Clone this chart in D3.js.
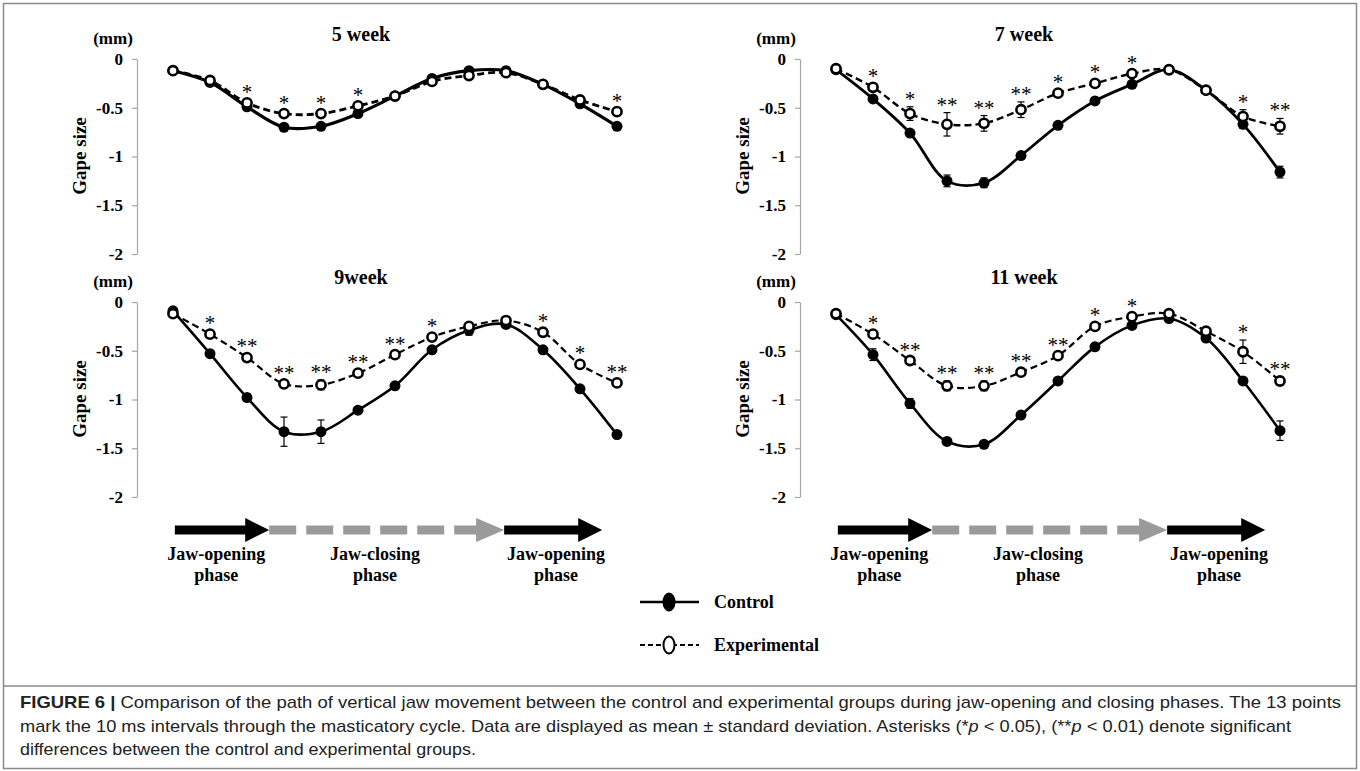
<!DOCTYPE html>
<html>
<head>
<meta charset="utf-8">
<script src="https://cdn.jsdelivr.net/npm/d3@7"></script>
<style>
  body { margin: 0; background: #fff; }
  svg { display: block; }
</style>
</head>
<body>
<div id="chart"></div>
<script>
// Set up dimensions
const width = 1360, height = 771;

// 13 sample points (10 ms steps through the cycle)
const points = d3.range(1, 14);
const yTicks = [0, -0.5, -1, -1.5, -2];
const yTickLabels = ["0", "-0.5", "-1", "-1.5", "-2"];

// 5 week
const ctrl5 = [-0.12, -0.24, -0.49, -0.70, -0.69, -0.56, -0.38, -0.20, -0.12, -0.12, -0.26, -0.46, -0.69];
const exp5 = [-0.12, -0.22, -0.45, -0.56, -0.56, -0.48, -0.38, -0.23, -0.17, -0.14, -0.26, -0.42, -0.54];
const ctrlErr5 = [0.01, 0.01, 0.01, 0.01, 0.01, 0.01, 0.01, 0.01, 0.01, 0.01, 0.01, 0.01, 0.01];
const expErr5 = [0.01, 0.01, 0.01, 0.01, 0.01, 0.01, 0.01, 0.01, 0.01, 0.01, 0.01, 0.01, 0.01];
const sig5 = ["", "", "*", "*", "*", "*", "", "", "", "", "", "", "*"];

// 7 week
const ctrl7 = [-0.11, -0.41, -0.76, -1.25, -1.27, -0.99, -0.68, -0.43, -0.26, -0.11, -0.32, -0.67, -1.16];
const exp7 = [-0.10, -0.29, -0.56, -0.67, -0.66, -0.52, -0.35, -0.25, -0.15, -0.11, -0.32, -0.59, -0.69];
const ctrlErr7 = [0.01, 0.02, 0.02, 0.06, 0.05, 0.03, 0.02, 0.02, 0.02, 0.01, 0.02, 0.03, 0.06];
const expErr7 = [0.01, 0.02, 0.07, 0.12, 0.08, 0.08, 0.02, 0.02, 0.02, 0.01, 0.02, 0.07, 0.08];
const sig7 = ["", "*", "*", "**", "**", "**", "*", "*", "*", "", "", "*", "**"];

// 9 week
const ctrl9 = [-0.09, -0.53, -0.98, -1.33, -1.33, -1.11, -0.86, -0.49, -0.29, -0.23, -0.49, -0.89, -1.36];
const exp9 = [-0.12, -0.33, -0.57, -0.84, -0.85, -0.73, -0.54, -0.36, -0.25, -0.19, -0.31, -0.64, -0.83];
const ctrlErr9 = [0.01, 0.02, 0.04, 0.15, 0.12, 0.02, 0.02, 0.02, 0.05, 0.04, 0.03, 0.02, 0.04];
const expErr9 = [0.01, 0.02, 0.04, 0.03, 0.05, 0.02, 0.02, 0.02, 0.02, 0.01, 0.02, 0.02, 0.02];
const sig9 = ["", "*", "**", "**", "**", "**", "**", "*", "", "", "*", "*", "**"];

// 11 week
const ctrl11 = [-0.13, -0.54, -1.04, -1.43, -1.46, -1.16, -0.81, -0.46, -0.24, -0.17, -0.37, -0.81, -1.32];
const exp11 = [-0.12, -0.33, -0.60, -0.86, -0.86, -0.72, -0.55, -0.25, -0.15, -0.12, -0.30, -0.51, -0.81];
const ctrlErr11 = [0.01, 0.06, 0.05, 0.03, 0.03, 0.03, 0.02, 0.02, 0.02, 0.02, 0.02, 0.02, 0.10];
const expErr11 = [0.01, 0.02, 0.02, 0.05, 0.05, 0.02, 0.02, 0.02, 0.02, 0.01, 0.02, 0.12, 0.04];
const sig11 = ["", "*", "**", "**", "**", "**", "**", "*", "*", "", "", "*", "**"];

// Phase arrows under the bottom row (positions in sample-point units)
const phaseLabels = ["Jaw-opening", "Jaw-closing", "Jaw-opening"];
const phaseStart = [1.05, 3.6, 9.95];
const phaseEnd = [3.6, 9.95, 12.6];
const phaseLabelAt = [2.17, 6.46, 11.35];

const legendLabels = ["Control", "Experimental"];

const captionLines = [
  [["FIGURE 6 | ", "bold"], ["Comparison of the path of vertical jaw movement between the control and experimental groups during jaw-opening and closing phases. The 13 points", ""]],
  [["mark the 10 ms intervals through the masticatory cycle. Data are displayed as mean \u00b1 standard deviation. Asterisks (*", ""], ["p", "italic"], [" < 0.05), (**", ""], ["p", "italic"], [" < 0.01) denote significant", ""]],
  [["differences between the control and experimental groups.", ""]]
];

const serif = "'Liberation Serif', 'Times New Roman', serif";

// Create an SVG container
const svg = d3.select("#chart")
  .append("svg")
  .attr("width", width)
  .attr("height", height);

// Frame
svg.append("rect")
  .attr("x", 3.5).attr("y", 3.5)
  .attr("width", width - 7).attr("height", height - 6)
  .attr("fill", "none")
  .attr("stroke", "#8a8a8a")
  .attr("stroke-width", 1.5);
svg.append("line")
  .attr("x1", 3.5).attr("x2", width - 3.5)
  .attr("y1", 686).attr("y2", 686)
  .attr("stroke", "#8a8a8a")
  .attr("stroke-width", 1.5);

const panels = [
  { title: "5 week", ctrl: ctrl5, exp: exp5, ctrlErr: ctrlErr5, expErr: expErr5, sig: sig5, ax: 137, y0: 59, lw: 3.2, arrows: false },
  { title: "7 week", ctrl: ctrl7, exp: exp7, ctrlErr: ctrlErr7, expErr: expErr7, sig: sig7, ax: 800, y0: 59, lw: 2.8, arrows: false },
  { title: "9week", ctrl: ctrl9, exp: exp9, ctrlErr: ctrlErr9, expErr: expErr9, sig: sig9, ax: 137, y0: 302, lw: 2.6, arrows: true },
  { title: "11 week", ctrl: ctrl11, exp: exp11, ctrlErr: ctrlErr11, expErr: expErr11, sig: sig11, ax: 800, y0: 302, lw: 2.6, arrows: true }
];

panels.forEach(p => drawPanel(p));
drawLegend();
drawCaption();

function drawPanel(p) {
  const x = d3.scalePoint().domain(points).range([p.ax + 36, p.ax + 480]);
  const y = d3.scaleLinear().domain([0, -2]).range([p.y0, p.y0 + 195]);
  const g = svg.append("g");

  // y axis
  const axis = g.append("g")
    .attr("transform", `translate(${p.ax},0)`)
    .call(d3.axisLeft(y)
      .tickValues(yTicks)
      .tickSize(5)
      .tickSizeOuter(0)
      .tickPadding(9)
      .tickFormat((d, i) => yTickLabels[i]));
  axis.select(".domain").attr("stroke", "#a6a6a6").attr("stroke-width", 1.2);
  axis.selectAll(".tick line").attr("stroke", "#a6a6a6").attr("stroke-width", 1.2);
  axis.selectAll(".tick text")
    .attr("fill", "#000")
    .style("font-family", serif)
    .style("font-weight", "bold")
    .style("font-size", "17px");

  // titles
  g.append("text")
    .attr("x", p.ax + 224).attr("y", p.y0 - 18)
    .attr("text-anchor", "middle")
    .style("font-family", serif).style("font-weight", "bold").style("font-size", "20px")
    .text(p.title);
  g.append("text")
    .attr("x", p.ax - 24).attr("y", p.y0 - 15)
    .attr("text-anchor", "middle")
    .style("font-family", serif).style("font-weight", "bold").style("font-size", "17px")
    .text("(mm)");
  g.append("text")
    .attr("transform", `translate(${p.ax - 51},${p.y0 + 97}) rotate(-90)`)
    .attr("text-anchor", "middle")
    .style("font-family", serif).style("font-weight", "bold").style("font-size", "19px")
    .text("Gape size");

  const line = d3.line()
    .x((d, i) => x(points[i]))
    .y(d => y(d))
    .curve(d3.curveCatmullRom.alpha(0.5));

  g.append("path")
    .attr("d", line(p.exp))
    .attr("fill", "none")
    .attr("stroke", "#000")
    .attr("stroke-width", p.lw - 0.4)
    .attr("stroke-dasharray", "7,4");
  g.append("path")
    .attr("d", line(p.ctrl))
    .attr("fill", "none")
    .attr("stroke", "#000")
    .attr("stroke-width", p.lw);

  // error bars
  const bars = [
    ...p.ctrl.map((v, i) => ({ i, v, e: p.ctrlErr[i] })),
    ...p.exp.map((v, i) => ({ i, v, e: p.expErr[i] }))
  ];
  const eb = g.selectAll(".err").data(bars).join("g").attr("class", "err")
    .attr("stroke", "#000").attr("stroke-width", 1.2);
  eb.append("line")
    .attr("x1", d => x(points[d.i])).attr("x2", d => x(points[d.i]))
    .attr("y1", d => y(d.v + d.e)).attr("y2", d => y(d.v - d.e));
  eb.append("line")
    .attr("x1", d => x(points[d.i]) - 3.5).attr("x2", d => x(points[d.i]) + 3.5)
    .attr("y1", d => y(d.v + d.e)).attr("y2", d => y(d.v + d.e));
  eb.append("line")
    .attr("x1", d => x(points[d.i]) - 3.5).attr("x2", d => x(points[d.i]) + 3.5)
    .attr("y1", d => y(d.v - d.e)).attr("y2", d => y(d.v - d.e));

  // markers
  g.selectAll(".ctrl-pt").data(p.ctrl).join("circle")
    .attr("class", "ctrl-pt")
    .attr("cx", (d, i) => x(points[i])).attr("cy", d => y(d))
    .attr("r", 5.5).attr("fill", "#000");
  g.selectAll(".exp-pt").data(p.exp).join("circle")
    .attr("class", "exp-pt")
    .attr("cx", (d, i) => x(points[i])).attr("cy", d => y(d))
    .attr("r", 4.6).attr("fill", "#fff")
    .attr("stroke", "#000").attr("stroke-width", 2.6);

  // significance asterisks
  g.selectAll(".sig").data(p.sig).join("text")
    .attr("class", "sig")
    .attr("x", (d, i) => x(points[i]))
    .attr("y", (d, i) => Math.min(y(p.exp[i]) - 4, y(p.exp[i] + p.expErr[i]) - 1))
    .attr("text-anchor", "middle")
    .style("font-family", serif).style("font-size", "21px")
    .text(d => d);

  if (p.arrows) drawPhases(p);
}

function drawPhases(p) {
  const xs = d3.scaleLinear().domain([1, 13]).range([p.ax + 36, p.ax + 480]);
  const ay = 530;
  const g = svg.append("g");
  phaseLabels.forEach((label, k) => {
    const x0 = xs(phaseStart[k]), x1 = xs(phaseEnd[k]);
    if (k === 1) {
      g.append("line")
        .attr("x1", x0).attr("x2", x1 - 27)
        .attr("y1", ay).attr("y2", ay)
        .attr("stroke", "#9a9a9a").attr("stroke-width", 9)
        .attr("stroke-dasharray", "27,10");
      g.append("path")
        .attr("d", `M${x1 - 28},${ay - 12}L${x1},${ay}L${x1 - 28},${ay + 12}Z`)
        .attr("fill", "#9a9a9a");
    } else {
      g.append("rect")
        .attr("x", x0).attr("y", ay - 4.5)
        .attr("width", x1 - x0 - 20).attr("height", 9)
        .attr("fill", "#000");
      g.append("path")
        .attr("d", `M${x1 - 24},${ay - 12}L${x1},${ay}L${x1 - 24},${ay + 12}Z`)
        .attr("fill", "#000");
    }
    const t = g.append("text")
      .attr("x", xs(phaseLabelAt[k])).attr("y", ay + 30)
      .attr("text-anchor", "middle")
      .style("font-family", serif).style("font-weight", "bold").style("font-size", "18px");
    t.append("tspan").attr("x", xs(phaseLabelAt[k])).text(label);
    t.append("tspan").attr("x", xs(phaseLabelAt[k])).attr("dy", 21).text("phase");
  });
}

function drawLegend() {
  const g = svg.append("g");
  const ly = [602, 645];
  legendLabels.forEach((label, k) => {
    g.append("line")
      .attr("x1", 640).attr("x2", 699)
      .attr("y1", ly[k]).attr("y2", ly[k])
      .attr("stroke", "#000")
      .attr("stroke-width", k === 0 ? 2.4 : 2)
      .attr("stroke-dasharray", k === 0 ? null : "5,3");
    g.append("ellipse")
      .attr("cx", 669).attr("cy", ly[k])
      .attr("rx", 5.5).attr("ry", 8.5)
      .attr("fill", k === 0 ? "#000" : "#fff")
      .attr("stroke", "#000").attr("stroke-width", 2);
    g.append("text")
      .attr("x", 714).attr("y", ly[k] + 6)
      .style("font-family", serif).style("font-weight", "bold").style("font-size", "18px")
      .text(label);
  });
}

function drawCaption() {
  const widths = [1321, 1271, 456];
  const base = [708, 732, 755];
  captionLines.forEach((parts, k) => {
    const t = svg.append("text")
      .attr("x", 20).attr("y", base[k])
      .attr("textLength", widths[k])
      .attr("lengthAdjust", "spacingAndGlyphs")
      .attr("fill", "#222")
      .style("font-family", "'Liberation Sans Narrow', 'Arial Narrow', 'Liberation Sans', sans-serif")
      .style("font-size", "17px");
    parts.forEach(([s, st]) => {
      const ts = t.append("tspan").text(s);
      if (st === "bold") ts.style("font-weight", "bold");
      if (st === "italic") ts.style("font-style", "italic");
    });
  });
}
</script>
</body>
</html>
